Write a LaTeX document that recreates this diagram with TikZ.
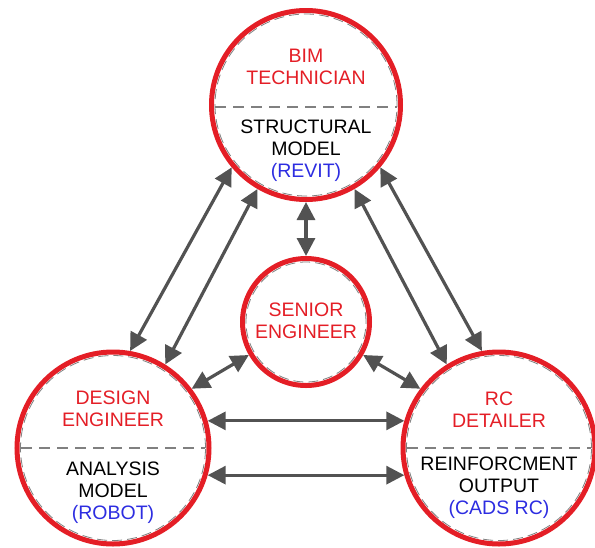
\documentclass[tikz,border=0pt]{standalone}
\usepackage{fontspec}
\setmainfont{Liberation Sans}
\usetikzlibrary{arrows.meta}
\definecolor{rolered}{RGB}{228,30,38}
\definecolor{toolblue}{RGB}{45,45,225}
\definecolor{linkgray}{RGB}{82,82,82}

\begin{document}
\begin{tikzpicture}[
        x=1pt, y=-1pt,
        role/.style={circle, draw=rolered, line width=5pt, fill=white,
          inner sep=0pt, minimum size=#1},
        ring/.style={draw=gray, line width=0.8pt, dash pattern=on 10pt off 5pt},
        divider/.style={draw=gray, line width=1.1pt, dash pattern=on 11pt off 7pt},
        title/.style={text=rolered, align=center, inner sep=0pt,
          font=\fontsize{19.5}{22}\selectfont},
        tool/.style={align=center, inner sep=0pt,
          font=\fontsize{19.5}{22}\selectfont},
        link/.style={draw=linkgray, line width=3.2pt,
          {Triangle[length=18pt,width=18pt]}-{Triangle[length=18pt,width=18pt]}}
        ]
        \useasboundingbox (0,0) rectangle (595,547);

        % circles
        \node[role=189pt] (bim) at (306,105) {};
        \node[role=192pt] (design) at (113,448) {};
        \node[role=192pt] (detail) at (499,448) {};
        \node[role=127pt] (senior) at (306,322) {};

        \draw[ring] (bim.center) circle[radius=91pt];
        \draw[ring] (design.center) circle[radius=92.5pt];
        \draw[ring] (detail.center) circle[radius=92.5pt];
        \draw[ring] (senior.center) circle[radius=60pt];

        \draw[divider] ([xshift=-91pt,yshift=-2pt]bim.center) -- ([xshift=91pt,yshift=-2pt]bim.center);
        \draw[divider] ([xshift=-92pt]design.center) -- ([xshift=92pt]design.center);
        \draw[divider] ([xshift=-92pt]detail.center) -- ([xshift=92pt]detail.center);

        % texts
        \node[title] (bimtitle) at ([yshift=38.5pt]bim.center) {BIM\\TECHNICIAN};
        \node[tool] (bimtool) at ([yshift=-46pt]bim.center)
            {STRUCTURAL\\MODEL\\\textcolor{toolblue}{(REVIT)}};
        \node[title] (designtitle) at ([yshift=39.5pt]design.center) {DESIGN\\ENGINEER};
        \node[tool] (designtool) at ([yshift=-44.5pt]design.center)
            {ANALYSIS\\MODEL\\\textcolor{toolblue}{(ROBOT)}};
        \node[title] (detailtitle) at ([yshift=38.5pt]detail.center) {RC\\DETAILER};
        \node[tool] (detailtool) at ([yshift=-40pt]detail.center)
            {REINFORCMENT\\OUTPUT\\\textcolor{toolblue}{(CADS RC)}};
        \node[title] (seniortitle) at ([yshift=1.5pt]senior.center) {SENIOR\\ENGINEER};

        % links
        \draw[link] (bim.220) -- (design.80);
        \draw[link] (bim.240) -- (design.58);
        \draw[link] (bim.300) -- (detail.122);
        \draw[link] (bim.320) -- (detail.100);
        \draw[link] (bim.south) -- (senior.north);
        \draw[link] (senior.210) -- (design.37);
        \draw[link] (senior.330) -- (detail.143);
        \draw[link] (design.16) -- (detail.164);
        \draw[link] (design.-16) -- (detail.196);
    \end{tikzpicture}
\end{document}
